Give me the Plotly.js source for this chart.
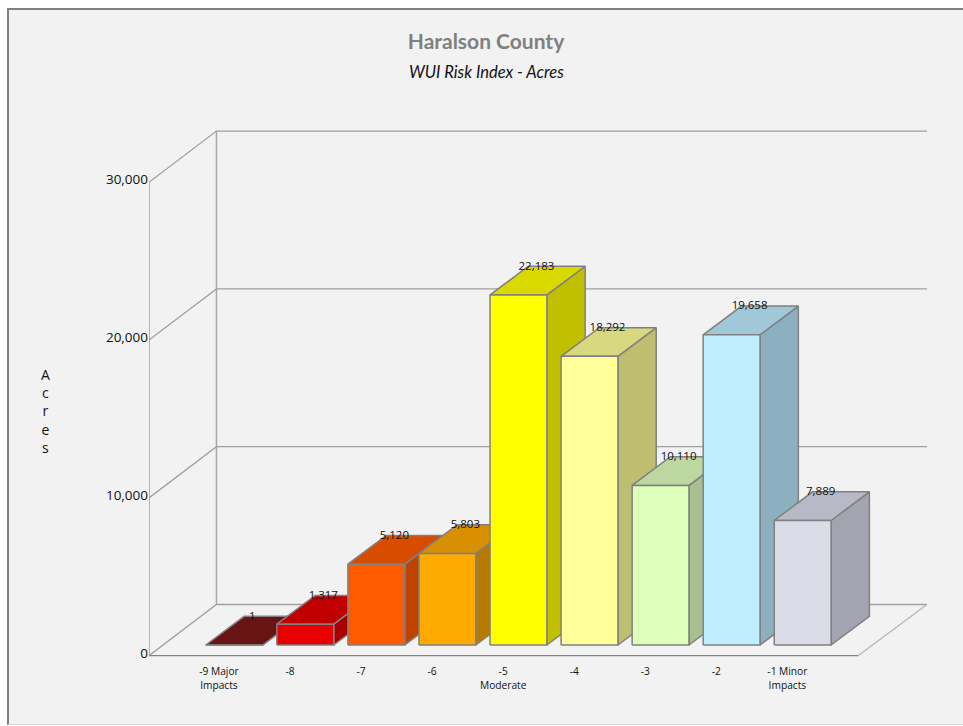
<!DOCTYPE html>
<html>
<head>
<meta charset="utf-8">
<script src="https://cdn.plot.ly/plotly-3.0.1.min.js"></script>
<style>
html,body{margin:0;padding:0;background:#fff;}
#frame{position:absolute;left:7px;top:8px;width:956px;height:717px;box-sizing:border-box;border-left:2px solid #7f7f7f;border-top:2px solid #7f7f7f;border-bottom:1px solid #dcdcdc;}
</style>
</head>
<body>
<div id="frame"><div id="chart"></div></div>
<script>
// Data
const categories = ["-9 Major<br>Impacts","-8","-7","-6","-5<br>Moderate","-4","-3","-2","-1 Minor<br>Impacts"];
const acres = [1,1317,5120,5803,22183,18292,10110,19658,7889];
const frontColors = ["#6b1414","#e60000","#ff5a00","#ffaa00","#ffff00","#ffff99","#ddffbb","#bfeeff","#dcdce8"];
const topColors   = ["#681414","#c00000","#d84c00","#d89000","#d9d900","#d8d880","#bcd8a0","#a0c8d8","#b8b8c6"];
const sideColors  = ["#541010","#a80000","#c04400","#b87a00","#c0c000","#bebe70","#a8c090","#8cb0c0","#a4a4b0"];
const yTicks = [0,10000,20000,30000];
const yTickLabels = ["0","10,000","20,000","30,000"];

// 3-D projection, in axis units
const barShift = 0.215, barHalf = 0.4, barDepthX = 0.539, barDepthY = 1819, barBase = 507;
const wallLeft = -0.985, wallDepthX = 0.95, floorRight = 8.995;
const frontLift = -170, backLift = 3075;

const traces = [];
function line(xs, ys, color, width){
  traces.push({type:"scatter",mode:"lines",x:xs,y:ys,cliponaxis:false,hoverinfo:"skip",
    line:{color:color,width:width,simplify:false}});
}
function face(xs, ys, color){
  traces.push({type:"scatter",mode:"lines",x:xs.concat(xs[0]),y:ys.concat(ys[0]),fill:"toself",fillcolor:color,
    cliponaxis:false,hoverinfo:"skip",line:{color:"#808080",width:1.5,simplify:false}});
}

// walls and floor
const backLeft = wallLeft + wallDepthX, backRight = floorRight + wallDepthX + 0.02;
const wallColor = "#a0a0a0";
yTicks.forEach(v=>{
  line([wallLeft,backLeft,backRight],[v+frontLift,v+backLift,v+backLift],wallColor,1.3);
});
line([backLeft,backLeft],[backLift,yTicks[3]+backLift],"#a8a8a8",1.5);
line([wallLeft,wallLeft],[frontLift,yTicks[3]+frontLift],"#8c8c8c",1.3);
line([floorRight,backRight],[frontLift,backLift],"#b4b4b4",1.3);
line([wallLeft,floorRight],[frontLift,frontLift],"#858585",1.3);

// bars
acres.forEach((v,i)=>{
  const L = i+barShift-barHalf, R = i+barShift+barHalf;
  const B = barBase, T = barBase+v;
  face([R,R+barDepthX,R+barDepthX,R],[B,B+barDepthY,T+barDepthY,T],sideColors[i]);
  face([L,R,R+barDepthX,L+barDepthX],[T,T,T+barDepthY,T+barDepthY],topColors[i]);
  face([L,R,R,L],[B,B,T,T],frontColors[i]);
});

// value labels
traces.push({type:"scatter",mode:"text",
  x:acres.map((v,i)=>i+barShift+barDepthX*0.47),
  y:acres.map(v=>barBase+v+barDepthY-30),
  text:acres.map(v=>v.toLocaleString("en-US")),
  textposition:"middle center",cliponaxis:false,hoverinfo:"skip",
  textfont:{family:"Open Sans",size:11.5,color:"#111"}});

const layout = {
  width:954,height:714,
  margin:{l:139.5,r:36,t:115,b:67,pad:0},
  paper_bgcolor:"#f2f2f2",plot_bgcolor:"rgba(0,0,0,0)",
  showlegend:false,hovermode:false,
  title:{text:"<b>Haralson County</b>",x:0.5,xanchor:"center",xref:"container",y:0.956,yref:"container",yanchor:"middle",
    font:{family:"Lato",size:21,color:"#808080"}},
  xaxis:{range:[-0.9845,9.9648],tickmode:"array",tickvals:categories.map((c,i)=>i),ticktext:categories,
    showgrid:false,zeroline:false,showline:false,ticks:"outside",ticklen:5,tickcolor:"rgba(0,0,0,0)",
    tickfont:{family:"Open Sans",size:10.2,color:"#111"},fixedrange:true},
  yaxis:{range:[-253.5,33460],tickmode:"array",tickvals:yTicks,ticktext:yTickLabels,
    showgrid:false,zeroline:false,showline:false,ticks:"",
    tickfont:{family:"Open Sans",size:13.5,color:"#111"},fixedrange:true},
  annotations:[
   {text:"<i>WUI Risk Index - Acres</i>",xref:"paper",yref:"paper",x:(486.5-148.5)/778.5,y:(657-72)/532,
    xanchor:"center",yanchor:"middle",showarrow:false,
    font:{family:"Lato",size:16.5,color:"#111"}},
   {text:"A<br>c<br>r<br>e<br>s",xref:"paper",yref:"paper",x:(44.5-148.5)/778.5,y:(657-411)/532,
    xanchor:"center",yanchor:"middle",showarrow:false,align:"center",
    font:{family:"Open Sans",size:14,color:"#111"}}]
};
Plotly.newPlot("chart",traces,layout,{displayModeBar:false,staticPlot:true});
</script>
</body>
</html>
